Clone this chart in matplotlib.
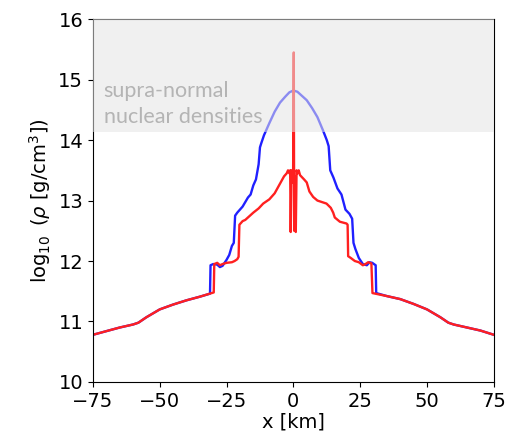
import matplotlib
matplotlib.use('Agg')
import matplotlib.pyplot as plt
import numpy as np

# blue profile
x_blue = [-75, -70, -65, -60, -58, -55, -50, -45, -40, -35, -31.2, -31, -30, -28.5, -27.5,
          -26.5, -25, -24, -23, -22.3, -21.8, -21, -19, -17, -16, -15, -14, -13, -12.5,
          -12, -11, -9, -7, -5, -3, -1.5, 0, 1.5, 3, 5, 7, 9, 11, 12.5, 13.2, 13.8, 15,
          16.5, 18, 19.5, 21, 22, 22.5, 23.2, 24.5, 26, 27.5, 28.5, 29.5, 30.8, 31, 35,
          40, 45, 50, 55, 58, 60, 65, 70, 75]
y_blue = [10.78, 10.84, 10.90, 10.95, 10.98, 11.07, 11.20, 11.28, 11.35, 11.41, 11.46,
          11.93, 11.95, 11.94, 11.90, 11.92, 12.02, 12.10, 12.25, 12.30, 12.75, 12.80,
          12.90, 13.05, 13.10, 13.25, 13.35, 13.60, 13.88, 13.95, 14.08, 14.28, 14.47,
          14.62, 14.72, 14.79, 14.82, 14.80, 14.74, 14.66, 14.53, 14.38, 14.17, 14.00,
          13.90, 13.50, 13.38, 13.20, 13.10, 12.85, 12.78, 12.70, 12.30, 12.20, 12.05,
          11.95, 11.93, 11.98, 11.97, 11.93, 11.47, 11.42, 11.37, 11.29, 11.20, 11.07,
          10.98, 10.95, 10.90, 10.85, 10.78]

# red profile
x_red = [-75, -70, -65, -60, -58, -55, -50, -45, -40, -35, -29.8, -29.6, -28.5, -27.5,
         -26.5, -25, -23, -22, -21, -20.5, -20.2, -19, -18, -17, -16, -15, -13, -11.3,
         -9, -7, -5, -3.5, -2.5, -2, -1.5, -1.2, -1.0, -0.7, -0.4, -0.1, 0.15, 0.3, 0.55,
         0.9, 1.2, 1.6, 2.0, 2.5, 4, 5, 6, 7.4, 9, 12.4, 14, 14.9, 15.5, 17.4, 19.9,
         20.3, 20.5, 21.5, 23, 24.5, 26, 27, 28, 29.2, 29.6, 35, 40, 45, 50, 55, 58, 60,
         65, 70, 75]
y_red = [10.78, 10.84, 10.90, 10.95, 10.98, 11.07, 11.20, 11.28, 11.35, 11.41, 11.48,
         11.95, 11.97, 11.93, 11.95, 11.97, 11.98, 12.00, 12.03, 12.07, 12.60, 12.66,
         12.68, 12.72, 12.76, 12.80, 12.87, 12.95, 13.02, 13.12, 13.28, 13.40, 13.45,
         13.50, 13.45, 13.50, 12.48, 13.50, 13.30, 13.40, 15.45, 12.50, 13.40, 12.48,
         13.50, 13.45, 13.50, 13.42, 13.35, 13.30, 13.15, 13.06, 13.00, 12.95, 12.88,
         12.80, 12.72, 12.65, 12.62, 12.60, 12.08, 12.05, 12.00, 11.98, 11.93, 11.95,
         11.98, 11.96, 11.47, 11.42, 11.37, 11.29, 11.20, 11.07, 10.98, 10.95, 10.90,
         10.85, 10.78]

band_lo, band_hi = 14.14, 16
label_lines = ['supra-normal', 'nuclear densities']

fig = plt.figure(figsize=(5.08, 4.36), dpi=100)
ax = fig.add_axes([0.183, 0.124, 0.789, 0.832])

ax.plot(x_blue, y_blue, color='#2020ff', lw=1.7)
ax.plot(x_red, y_red, color='#ff2020', lw=1.7)

# shaded region drawn on top of the curves
ax.axhspan(band_lo, band_hi, color='#e4e4e4', alpha=0.55, lw=0, zorder=5)
ax.text(-71, 14.72, label_lines[0], family='Lato', fontsize=15.5, color='#b4b4b4', zorder=6)
ax.text(-71, 14.28, label_lines[1], family='Lato', fontsize=15.5, color='#b4b4b4', zorder=6)

ax.set_xlim(-75, 75)
ax.set_ylim(10, 16)
ax.set_xticks([-75, -50, -25, 0, 25, 50, 75])
ax.set_yticks([10, 11, 12, 13, 14, 15, 16])
ax.tick_params(labelsize=14)
ax.set_xlabel('x [km]', fontsize=14, labelpad=1)
ax.set_ylabel(r'$\log_{10}$ ($\rho$ [g/cm$^3$])', fontsize=14)

fig.savefig('out.png', dpi=100)
